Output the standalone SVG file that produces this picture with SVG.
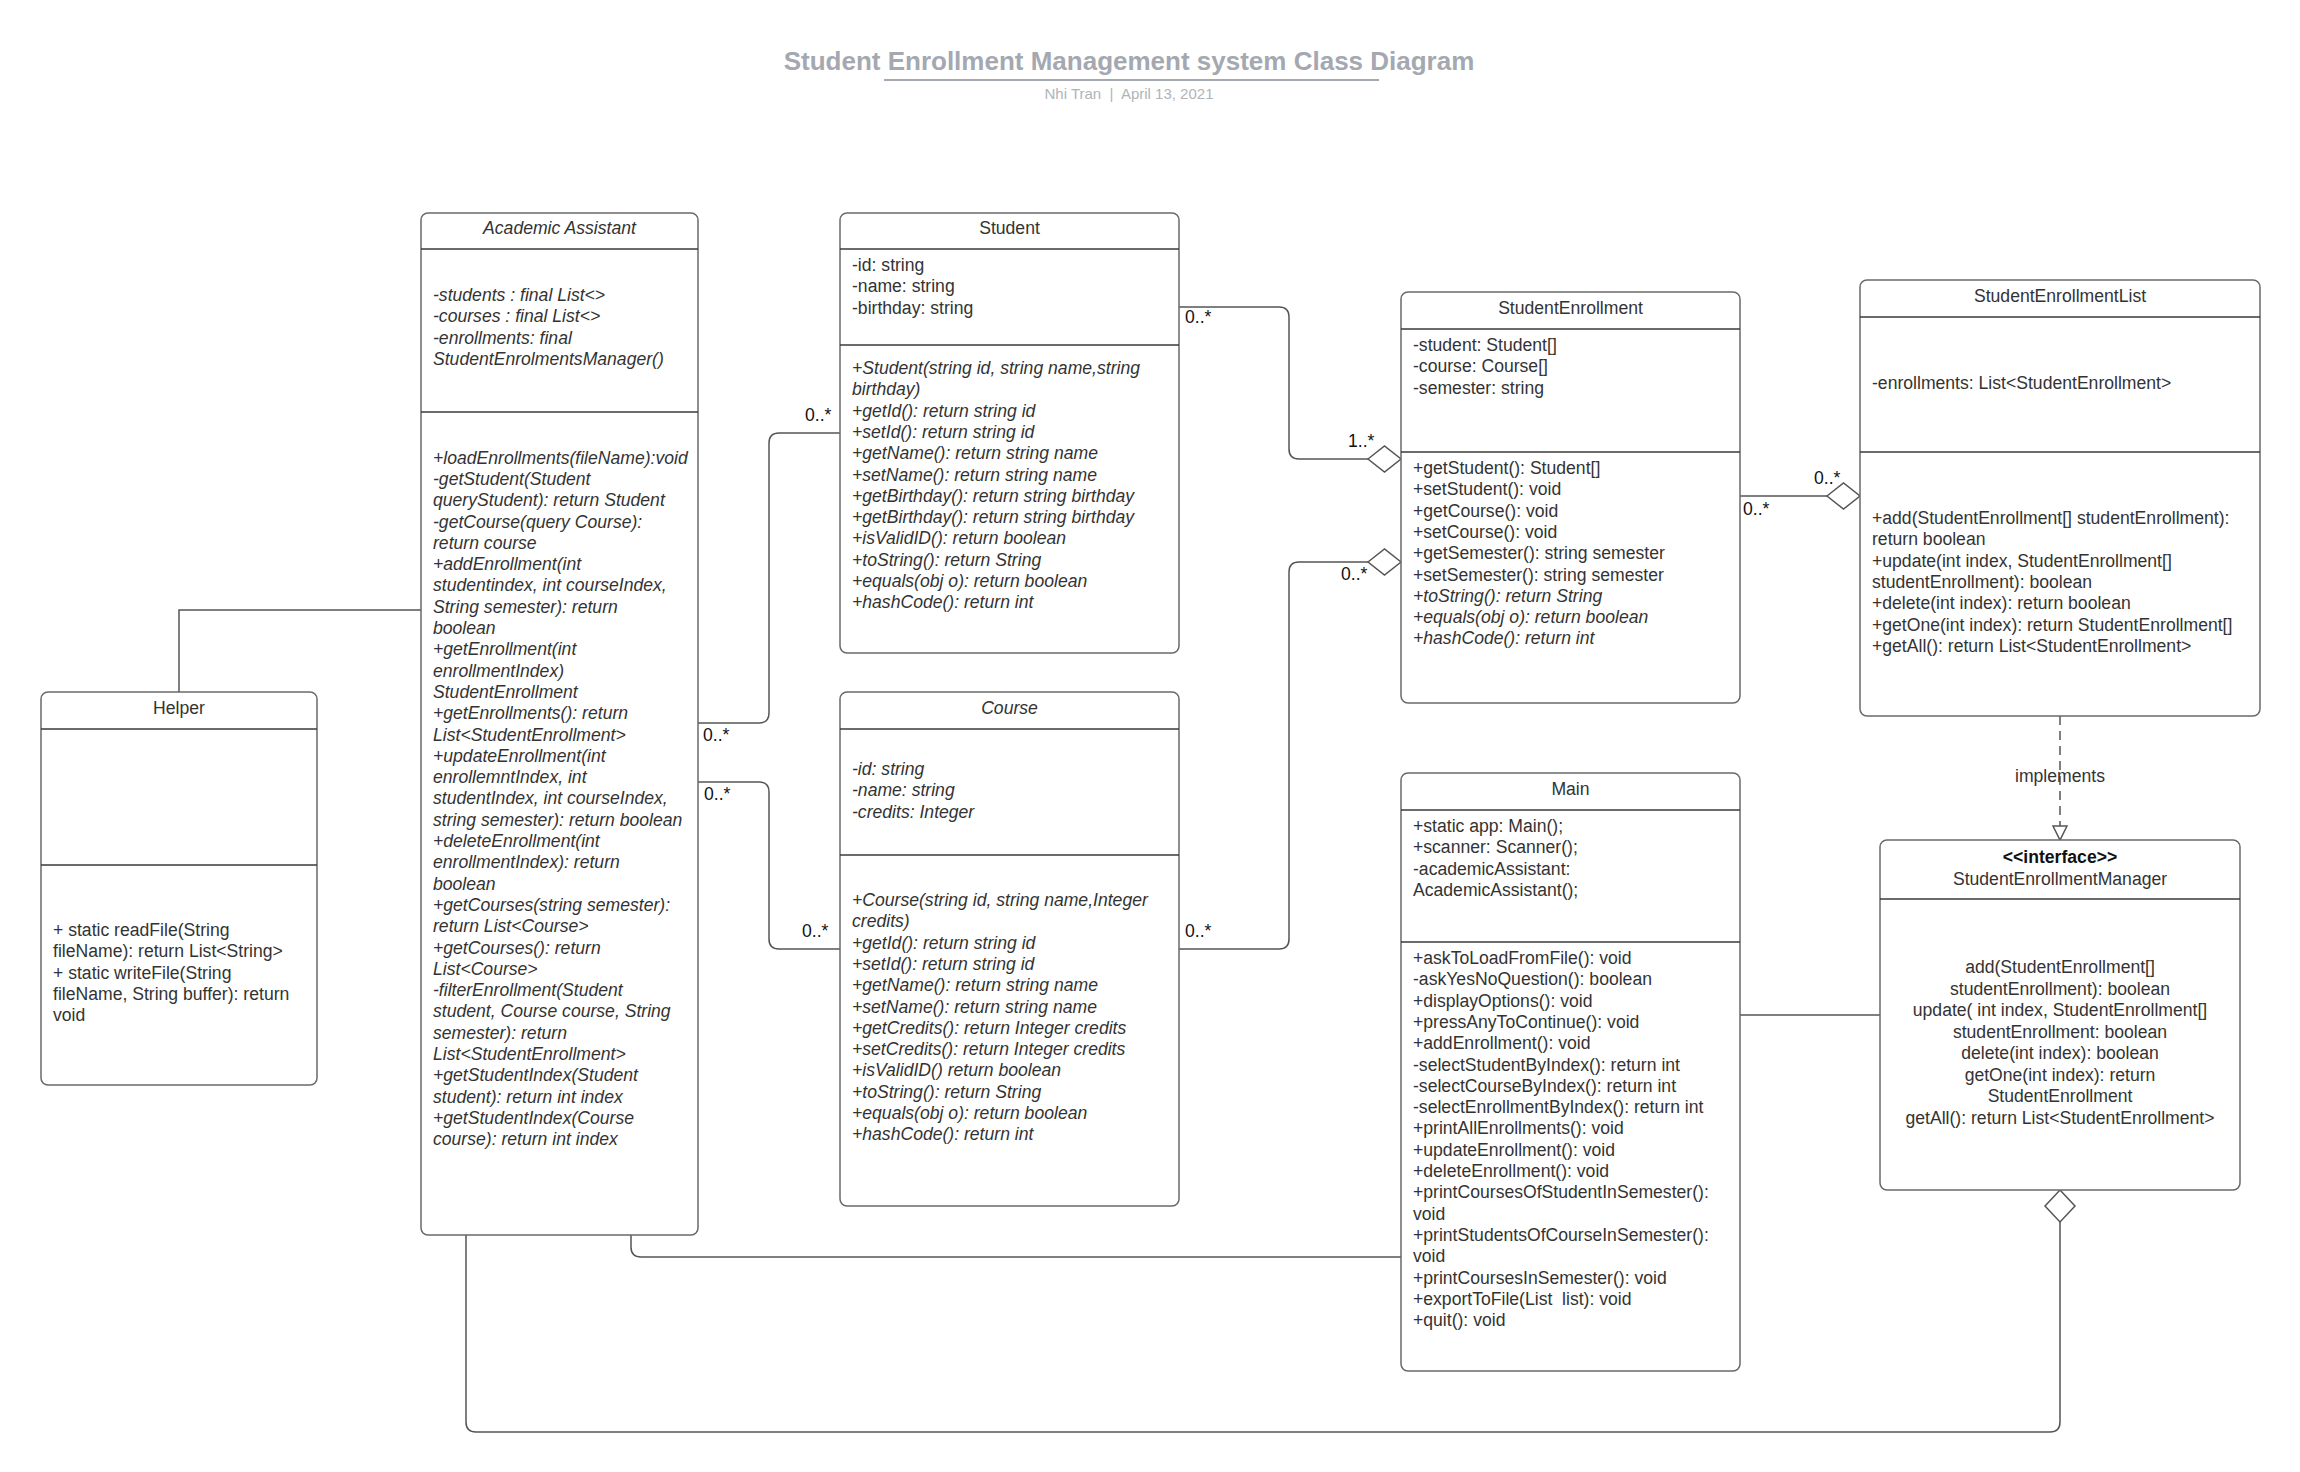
<svg xmlns="http://www.w3.org/2000/svg" width="2300" height="1472" viewBox="0 0 2300 1472">
<style>
.bg{fill:#ffffff}
.box{fill:#ffffff;stroke:#6a6a6a;stroke-width:1.5}
.div{stroke:#3a3a3a;stroke-width:1.3}
.t{font-family:"Liberation Sans",Arial,sans-serif;font-size:17.6px;fill:#333333;white-space:pre}
.i{font-style:italic}
.c{text-anchor:middle}
.b{font-weight:bold;fill:#111111}
.lbl{font-family:"Liberation Sans",Arial,sans-serif;font-size:17.6px;fill:#111111}
.ln{fill:none;stroke:#555555;stroke-width:1.5}
.dash{fill:none;stroke:#555555;stroke-width:1.5;stroke-dasharray:9,6}
.dia{fill:#ffffff;stroke:#555555;stroke-width:1.5}
.title{font-family:"Liberation Sans",Arial,sans-serif;font-size:26px;font-weight:bold;fill:#a4a8b0;text-anchor:middle}
.sub{font-family:"Liberation Sans",Arial,sans-serif;font-size:15px;fill:#b0b4ba;text-anchor:middle;white-space:pre}
</style>
<rect class="bg" x="0" y="0" width="2300" height="1472"/>
<g id="title">
<text class="title" x="1129" y="70">Student Enrollment Management system Class Diagram</text>
<line x1="884" y1="80" x2="1379" y2="80" stroke="#a4a8b0" stroke-width="2"/>
<text class="sub" x="1129" y="99">Nhi Tran  |  April 13, 2021</text>
</g>
<g id="connectors">
<path class="ln" d="M179,692 V610 H421"/>
<path class="ln" d="M698,723 H759 Q769,723 769,713 V443 Q769,433 779,433 H840"/>
<path class="ln" d="M698,782 H759 Q769,782 769,792 V939 Q769,949 779,949 H840"/>
<path class="ln" d="M1179,307 H1279 Q1289,307 1289,317 V449 Q1289,459 1299,459 H1368"/>
<polygon class="dia" points="1368,459 1384.5,446 1401,459 1384.5,472"/>
<path class="ln" d="M1179,949 H1279 Q1289,949 1289,939 V572 Q1289,562 1299,562 H1368"/>
<polygon class="dia" points="1368,562 1384.5,549 1401,562 1384.5,575"/>
<path class="ln" d="M1740,496 H1827"/>
<polygon class="dia" points="1827,496 1843.5,483 1860,496 1843.5,509"/>
<path class="dash" d="M2060,716 V826"/>
<polygon class="dia" points="2053,826 2067,826 2060,840"/>
<path class="ln" d="M1740,1015 H1880"/>
<path class="ln" d="M631,1235 V1247 Q631,1257 641,1257 H1401"/>
<path class="ln" d="M466,1235 V1422 Q466,1432 476,1432 H2050 Q2060,1432 2060,1422 V1222"/>
<polygon class="dia" points="2060,1190 2075,1206 2060,1222 2045,1206"/>
<text class="lbl" x="703" y="741">0..*</text>
<text class="lbl" x="805" y="421">0..*</text>
<text class="lbl" x="704" y="800">0..*</text>
<text class="lbl" x="802" y="937">0..*</text>
<text class="lbl" x="1185" y="323">0..*</text>
<text class="lbl" x="1348" y="447">1..*</text>
<text class="lbl" x="1185" y="937">0..*</text>
<text class="lbl" x="1341" y="580">0..*</text>
<text class="lbl" x="1743" y="515">0..*</text>
<text class="lbl" x="1814" y="484">0..*</text>
<text class="t c" x="2060" y="782">implements</text>
</g>
<g id="academic-assistant">
<rect class="box" x="421" y="213" width="277" height="1022" rx="7"/>
<line class="div" x1="421" y1="249" x2="698" y2="249"/>
<line class="div" x1="421" y1="412" x2="698" y2="412"/>
<text class="t i c" x="559.5" y="234">Academic Assistant</text>
<text class="t i" x="433" y="301">-students : final List&lt;&gt;</text>
<text class="t i" x="433" y="322.3">-courses : final List&lt;&gt;</text>
<text class="t i" x="433" y="343.6">-enrollments: final</text>
<text class="t i" x="433" y="364.9">StudentEnrolmentsManager()</text>
<text class="t i" x="433" y="463.6">+loadEnrollments(fileName):void</text>
<text class="t i" x="433" y="484.9">-getStudent(Student</text>
<text class="t i" x="433" y="506.2">queryStudent): return Student</text>
<text class="t i" x="433" y="527.5">-getCourse(query Course):</text>
<text class="t i" x="433" y="548.8">return course</text>
<text class="t i" x="433" y="570.1">+addEnrollment(int</text>
<text class="t i" x="433" y="591.4">studentindex, int courseIndex,</text>
<text class="t i" x="433" y="612.7">String semester): return</text>
<text class="t i" x="433" y="634">boolean</text>
<text class="t i" x="433" y="655.3">+getEnrollment(int</text>
<text class="t i" x="433" y="676.6">enrollmentIndex)</text>
<text class="t i" x="433" y="697.9">StudentEnrollment</text>
<text class="t i" x="433" y="719.2">+getEnrollments(): return</text>
<text class="t i" x="433" y="740.5">List&lt;StudentEnrollment&gt;</text>
<text class="t i" x="433" y="761.8">+updateEnrollment(int</text>
<text class="t i" x="433" y="783.1">enrollemntIndex, int</text>
<text class="t i" x="433" y="804.4">studentIndex, int courseIndex,</text>
<text class="t i" x="433" y="825.7">string semester): return boolean</text>
<text class="t i" x="433" y="847">+deleteEnrollment(int</text>
<text class="t i" x="433" y="868.3">enrollmentIndex): return</text>
<text class="t i" x="433" y="889.6">boolean</text>
<text class="t i" x="433" y="910.9">+getCourses(string semester):</text>
<text class="t i" x="433" y="932.2">return List&lt;Course&gt;</text>
<text class="t i" x="433" y="953.5">+getCourses(): return</text>
<text class="t i" x="433" y="974.8">List&lt;Course&gt;</text>
<text class="t i" x="433" y="996.1">-filterEnrollment(Student</text>
<text class="t i" x="433" y="1017.4">student, Course course, String</text>
<text class="t i" x="433" y="1038.7">semester): return</text>
<text class="t i" x="433" y="1060">List&lt;StudentEnrollment&gt;</text>
<text class="t i" x="433" y="1081.3">+getStudentIndex(Student</text>
<text class="t i" x="433" y="1102.6">student): return int index</text>
<text class="t i" x="433" y="1123.9">+getStudentIndex(Course</text>
<text class="t i" x="433" y="1145.2">course): return int index</text>
</g>
<g id="student">
<rect class="box" x="840" y="213" width="339" height="440" rx="7"/>
<line class="div" x1="840" y1="249" x2="1179" y2="249"/>
<line class="div" x1="840" y1="345" x2="1179" y2="345"/>
<text class="t c" x="1009.5" y="234">Student</text>
<text class="t" x="852" y="271">-id: string</text>
<text class="t" x="852" y="292.3">-name: string</text>
<text class="t" x="852" y="313.6">-birthday: string</text>
<text class="t i" x="852" y="374">+Student(string id, string name,string</text>
<text class="t i" x="852" y="395.3">birthday)</text>
<text class="t i" x="852" y="416.6">+getId(): return string id</text>
<text class="t i" x="852" y="437.9">+setId(): return string id</text>
<text class="t i" x="852" y="459.2">+getName(): return string name</text>
<text class="t i" x="852" y="480.5">+setName(): return string name</text>
<text class="t i" x="852" y="501.8">+getBirthday(): return string birthday</text>
<text class="t i" x="852" y="523.1">+getBirthday(): return string birthday</text>
<text class="t i" x="852" y="544.4">+isValidID(): return boolean</text>
<text class="t i" x="852" y="565.7">+toString(): return String</text>
<text class="t i" x="852" y="587">+equals(obj o): return boolean</text>
<text class="t i" x="852" y="608.3">+hashCode(): return int</text>
</g>
<g id="course">
<rect class="box" x="840" y="692" width="339" height="514" rx="7"/>
<line class="div" x1="840" y1="729" x2="1179" y2="729"/>
<line class="div" x1="840" y1="855" x2="1179" y2="855"/>
<text class="t i c" x="1009.5" y="714">Course</text>
<text class="t i" x="852" y="775">-id: string</text>
<text class="t i" x="852" y="796.3">-name: string</text>
<text class="t i" x="852" y="817.6">-credits: Integer</text>
<text class="t i" x="852" y="906">+Course(string id, string name,Integer</text>
<text class="t i" x="852" y="927.3">credits)</text>
<text class="t i" x="852" y="948.6">+getId(): return string id</text>
<text class="t i" x="852" y="969.9">+setId(): return string id</text>
<text class="t i" x="852" y="991.2">+getName(): return string name</text>
<text class="t i" x="852" y="1012.5">+setName(): return string name</text>
<text class="t i" x="852" y="1033.8">+getCredits(): return Integer credits</text>
<text class="t i" x="852" y="1055.1">+setCredits(): return Integer credits</text>
<text class="t i" x="852" y="1076.4">+isValidID() return boolean</text>
<text class="t i" x="852" y="1097.7">+toString(): return String</text>
<text class="t i" x="852" y="1119">+equals(obj o): return boolean</text>
<text class="t i" x="852" y="1140.3">+hashCode(): return int</text>
</g>
<g id="student-enrollment">
<rect class="box" x="1401" y="292" width="339" height="411" rx="7"/>
<line class="div" x1="1401" y1="329" x2="1740" y2="329"/>
<line class="div" x1="1401" y1="452" x2="1740" y2="452"/>
<text class="t c" x="1570.5" y="314">StudentEnrollment</text>
<text class="t" x="1413" y="351">-student: Student[]</text>
<text class="t" x="1413" y="372.3">-course: Course[]</text>
<text class="t" x="1413" y="393.6">-semester: string</text>
<text class="t" x="1413" y="474">+getStudent(): Student[]</text>
<text class="t" x="1413" y="495.3">+setStudent(): void</text>
<text class="t" x="1413" y="516.6">+getCourse(): void</text>
<text class="t" x="1413" y="537.9">+setCourse(): void</text>
<text class="t" x="1413" y="559.2">+getSemester(): string semester</text>
<text class="t" x="1413" y="580.5">+setSemester(): string semester</text>
<text class="t i" x="1413" y="601.8">+toString(): return String</text>
<text class="t i" x="1413" y="623.1">+equals(obj o): return boolean</text>
<text class="t i" x="1413" y="644.4">+hashCode(): return int</text>
</g>
<g id="student-enrollment-list">
<rect class="box" x="1860" y="280" width="400" height="436" rx="7"/>
<line class="div" x1="1860" y1="317" x2="2260" y2="317"/>
<line class="div" x1="1860" y1="452" x2="2260" y2="452"/>
<text class="t c" x="2060" y="302">StudentEnrollmentList</text>
<text class="t" x="1872" y="389">-enrollments: List&lt;StudentEnrollment&gt;</text>
<text class="t" x="1872" y="524">+add(StudentEnrollment[] studentEnrollment):</text>
<text class="t" x="1872" y="545.3">return boolean</text>
<text class="t" x="1872" y="566.6">+update(int index, StudentEnrollment[]</text>
<text class="t" x="1872" y="587.9">studentEnrollment): boolean</text>
<text class="t" x="1872" y="609.2">+delete(int index): return boolean</text>
<text class="t" x="1872" y="630.5">+getOne(int index): return StudentEnrollment[]</text>
<text class="t" x="1872" y="651.8">+getAll(): return List&lt;StudentEnrollment&gt;</text>
</g>
<g id="student-enrollment-manager">
<rect class="box" x="1880" y="840" width="360" height="350" rx="7"/>
<line class="div" x1="1880" y1="899" x2="2240" y2="899"/>
<text class="t c b" x="2060" y="863">&lt;&lt;interface&gt;&gt;</text>
<text class="t c" x="2060" y="885">StudentEnrollmentManager</text>
<text class="t c" x="2060" y="973">add(StudentEnrollment[]</text>
<text class="t c" x="2060" y="994.5">studentEnrollment): boolean</text>
<text class="t c" x="2060" y="1016">update( int index, StudentEnrollment[]</text>
<text class="t c" x="2060" y="1037.5">studentEnrollment: boolean</text>
<text class="t c" x="2060" y="1059">delete(int index): boolean</text>
<text class="t c" x="2060" y="1080.5">getOne(int index): return</text>
<text class="t c" x="2060" y="1102">StudentEnrollment</text>
<text class="t c" x="2060" y="1123.5">getAll(): return List&lt;StudentEnrollment&gt;</text>
</g>
<g id="main">
<rect class="box" x="1401" y="773" width="339" height="598" rx="7"/>
<line class="div" x1="1401" y1="810" x2="1740" y2="810"/>
<line class="div" x1="1401" y1="942" x2="1740" y2="942"/>
<text class="t c" x="1570.5" y="795">Main</text>
<text class="t" x="1413" y="832">+static app: Main();</text>
<text class="t" x="1413" y="853.3">+scanner: Scanner();</text>
<text class="t" x="1413" y="874.6">-academicAssistant:</text>
<text class="t" x="1413" y="895.9">AcademicAssistant();</text>
<text class="t" x="1413" y="964">+askToLoadFromFile(): void</text>
<text class="t" x="1413" y="985.3">-askYesNoQuestion(): boolean</text>
<text class="t" x="1413" y="1006.6">+displayOptions(): void</text>
<text class="t" x="1413" y="1027.9">+pressAnyToContinue(): void</text>
<text class="t" x="1413" y="1049.2">+addEnrollment(): void</text>
<text class="t" x="1413" y="1070.5">-selectStudentByIndex(): return int</text>
<text class="t" x="1413" y="1091.8">-selectCourseByIndex(): return int</text>
<text class="t" x="1413" y="1113.1">-selectEnrollmentByIndex(): return int</text>
<text class="t" x="1413" y="1134.4">+printAllEnrollments(): void</text>
<text class="t" x="1413" y="1155.7">+updateEnrollment(): void</text>
<text class="t" x="1413" y="1177">+deleteEnrollment(): void</text>
<text class="t" x="1413" y="1198.3">+printCoursesOfStudentInSemester():</text>
<text class="t" x="1413" y="1219.6">void</text>
<text class="t" x="1413" y="1240.9">+printStudentsOfCourseInSemester():</text>
<text class="t" x="1413" y="1262.2">void</text>
<text class="t" x="1413" y="1283.5">+printCoursesInSemester(): void</text>
<text class="t" x="1413" y="1304.8">+exportToFile(List  list): void</text>
<text class="t" x="1413" y="1326.1">+quit(): void</text>
</g>
<g id="helper">
<rect class="box" x="41" y="692" width="276" height="393" rx="7"/>
<line class="div" x1="41" y1="729" x2="317" y2="729"/>
<line class="div" x1="41" y1="865" x2="317" y2="865"/>
<text class="t c" x="179" y="714">Helper</text>
<text class="t" x="53" y="936">+ static readFile(String</text>
<text class="t" x="53" y="957.3">fileName): return List&lt;String&gt;</text>
<text class="t" x="53" y="978.6">+ static writeFile(String</text>
<text class="t" x="53" y="999.9">fileName, String buffer): return</text>
<text class="t" x="53" y="1021.2">void</text>
</g>
</svg>
